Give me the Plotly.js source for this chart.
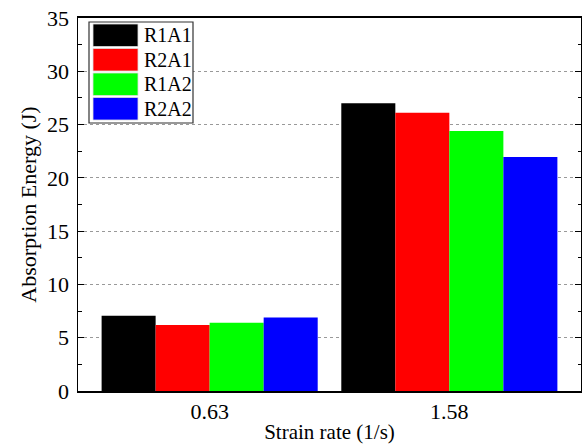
<!DOCTYPE html>
<html>
<head>
<meta charset="utf-8">
<script src="https://cdn.plot.ly/plotly-3.0.1.min.js"></script>
<style>html,body{margin:0;padding:0;background:#fff;}#chart{width:582px;height:444px;}</style>
</head>
<body>
<div id="chart"></div>
<script>
const categories = ["0.63", "1.58"];
const seriesNames = ["R1A1", "R2A1", "R1A2", "R2A2"];
const seriesColors = ["#000000", "#ff0000", "#00ff00", "#0000ff"];
const R1A1 = [7.05, 27.0];
const R2A1 = [6.2, 26.1];
const R1A2 = [6.4, 24.4];
const R2A2 = [6.9, 21.95];
const seriesValues = [R1A1, R2A1, R1A2, R2A2];

const FONT = "Liberation Serif";
const GAP = 0.0985;

const traces = seriesNames.map((name, i) => ({
  type: "bar",
  name: name,
  x: categories,
  y: seriesValues[i],
  marker: {color: seriesColors[i], line: {width: 0}},
  showlegend: false,
  hoverinfo: "skip"
}));

const shapes = [];
const annotations = [];
// legend box: plot spans x 78..581 (503px), y 18..391 (373px)
const px = v => (v - 78) / 503;
const py = v => (391 - v) / 373;
shapes.push({type: "rect", xref: "paper", yref: "paper", x0: px(89), x1: px(193), y0: py(123), y1: py(22),
  line: {color: "#333", width: 1.2}, fillcolor: "#fff", layer: "above"});
seriesNames.forEach((name, i) => {
  const top = 24 + i * 24.5;
  const bot = top + 22.5;
  shapes.push({type: "rect", xref: "paper", yref: "paper", x0: px(93), x1: px(138), y0: py(bot), y1: py(top),
    line: {color: "#dddddd", width: 0.8}, fillcolor: seriesColors[i], layer: "above"});
  annotations.push({xref: "paper", yref: "paper", x: px(142), y: py((top + bot) / 2), xanchor: "left", yanchor: "middle",
    text: name, showarrow: false, font: {family: FONT, size: 20, color: "#000"}});
});

const layout = {
  width: 582, height: 444,
  margin: {l: 78, r: 1, t: 18, b: 53},
  paper_bgcolor: "#fff", plot_bgcolor: "#fff",
  barmode: "group", bargap: GAP, bargroupgap: 0,
  font: {family: FONT, color: "#000"},
  xaxis: {
    type: "category",
    range: [-0.5 - GAP / 2, 1.5 + GAP / 2],
    showline: true, linecolor: "#000", linewidth: 2, mirror: true,
    ticks: "", showgrid: false, zeroline: false,
    tickfont: {family: FONT, size: 22, color: "#000"},
    title: {text: "Strain rate (1/s)", font: {family: FONT, size: 21, color: "#000"}, standoff: 8}
  },
  yaxis: {
    range: [0, 35], dtick: 5, tick0: 0,
    showline: true, linecolor: "#000", linewidth: 1.5, mirror: "ticks",
    ticks: "inside", ticklen: 6, tickwidth: 1.2, tickcolor: "#000",
    minor: {ticks: "inside", ticklen: 3.5, tickwidth: 1, tickcolor: "#000", dtick: 2.5, showgrid: false},
    showgrid: true, gridcolor: "#999", griddash: "dot", gridwidth: 1,
    zeroline: false,
    ticklabelstandoff: 3,
    tickfont: {family: FONT, size: 22, color: "#000"},
    title: {text: "Absorption Energy (J)", font: {family: FONT, size: 22, color: "#000"}, standoff: 4}
  },
  shapes: shapes,
  annotations: annotations
};

Plotly.newPlot("chart", traces, layout, {displayModeBar: false, staticPlot: true});
</script>
</body>
</html>
